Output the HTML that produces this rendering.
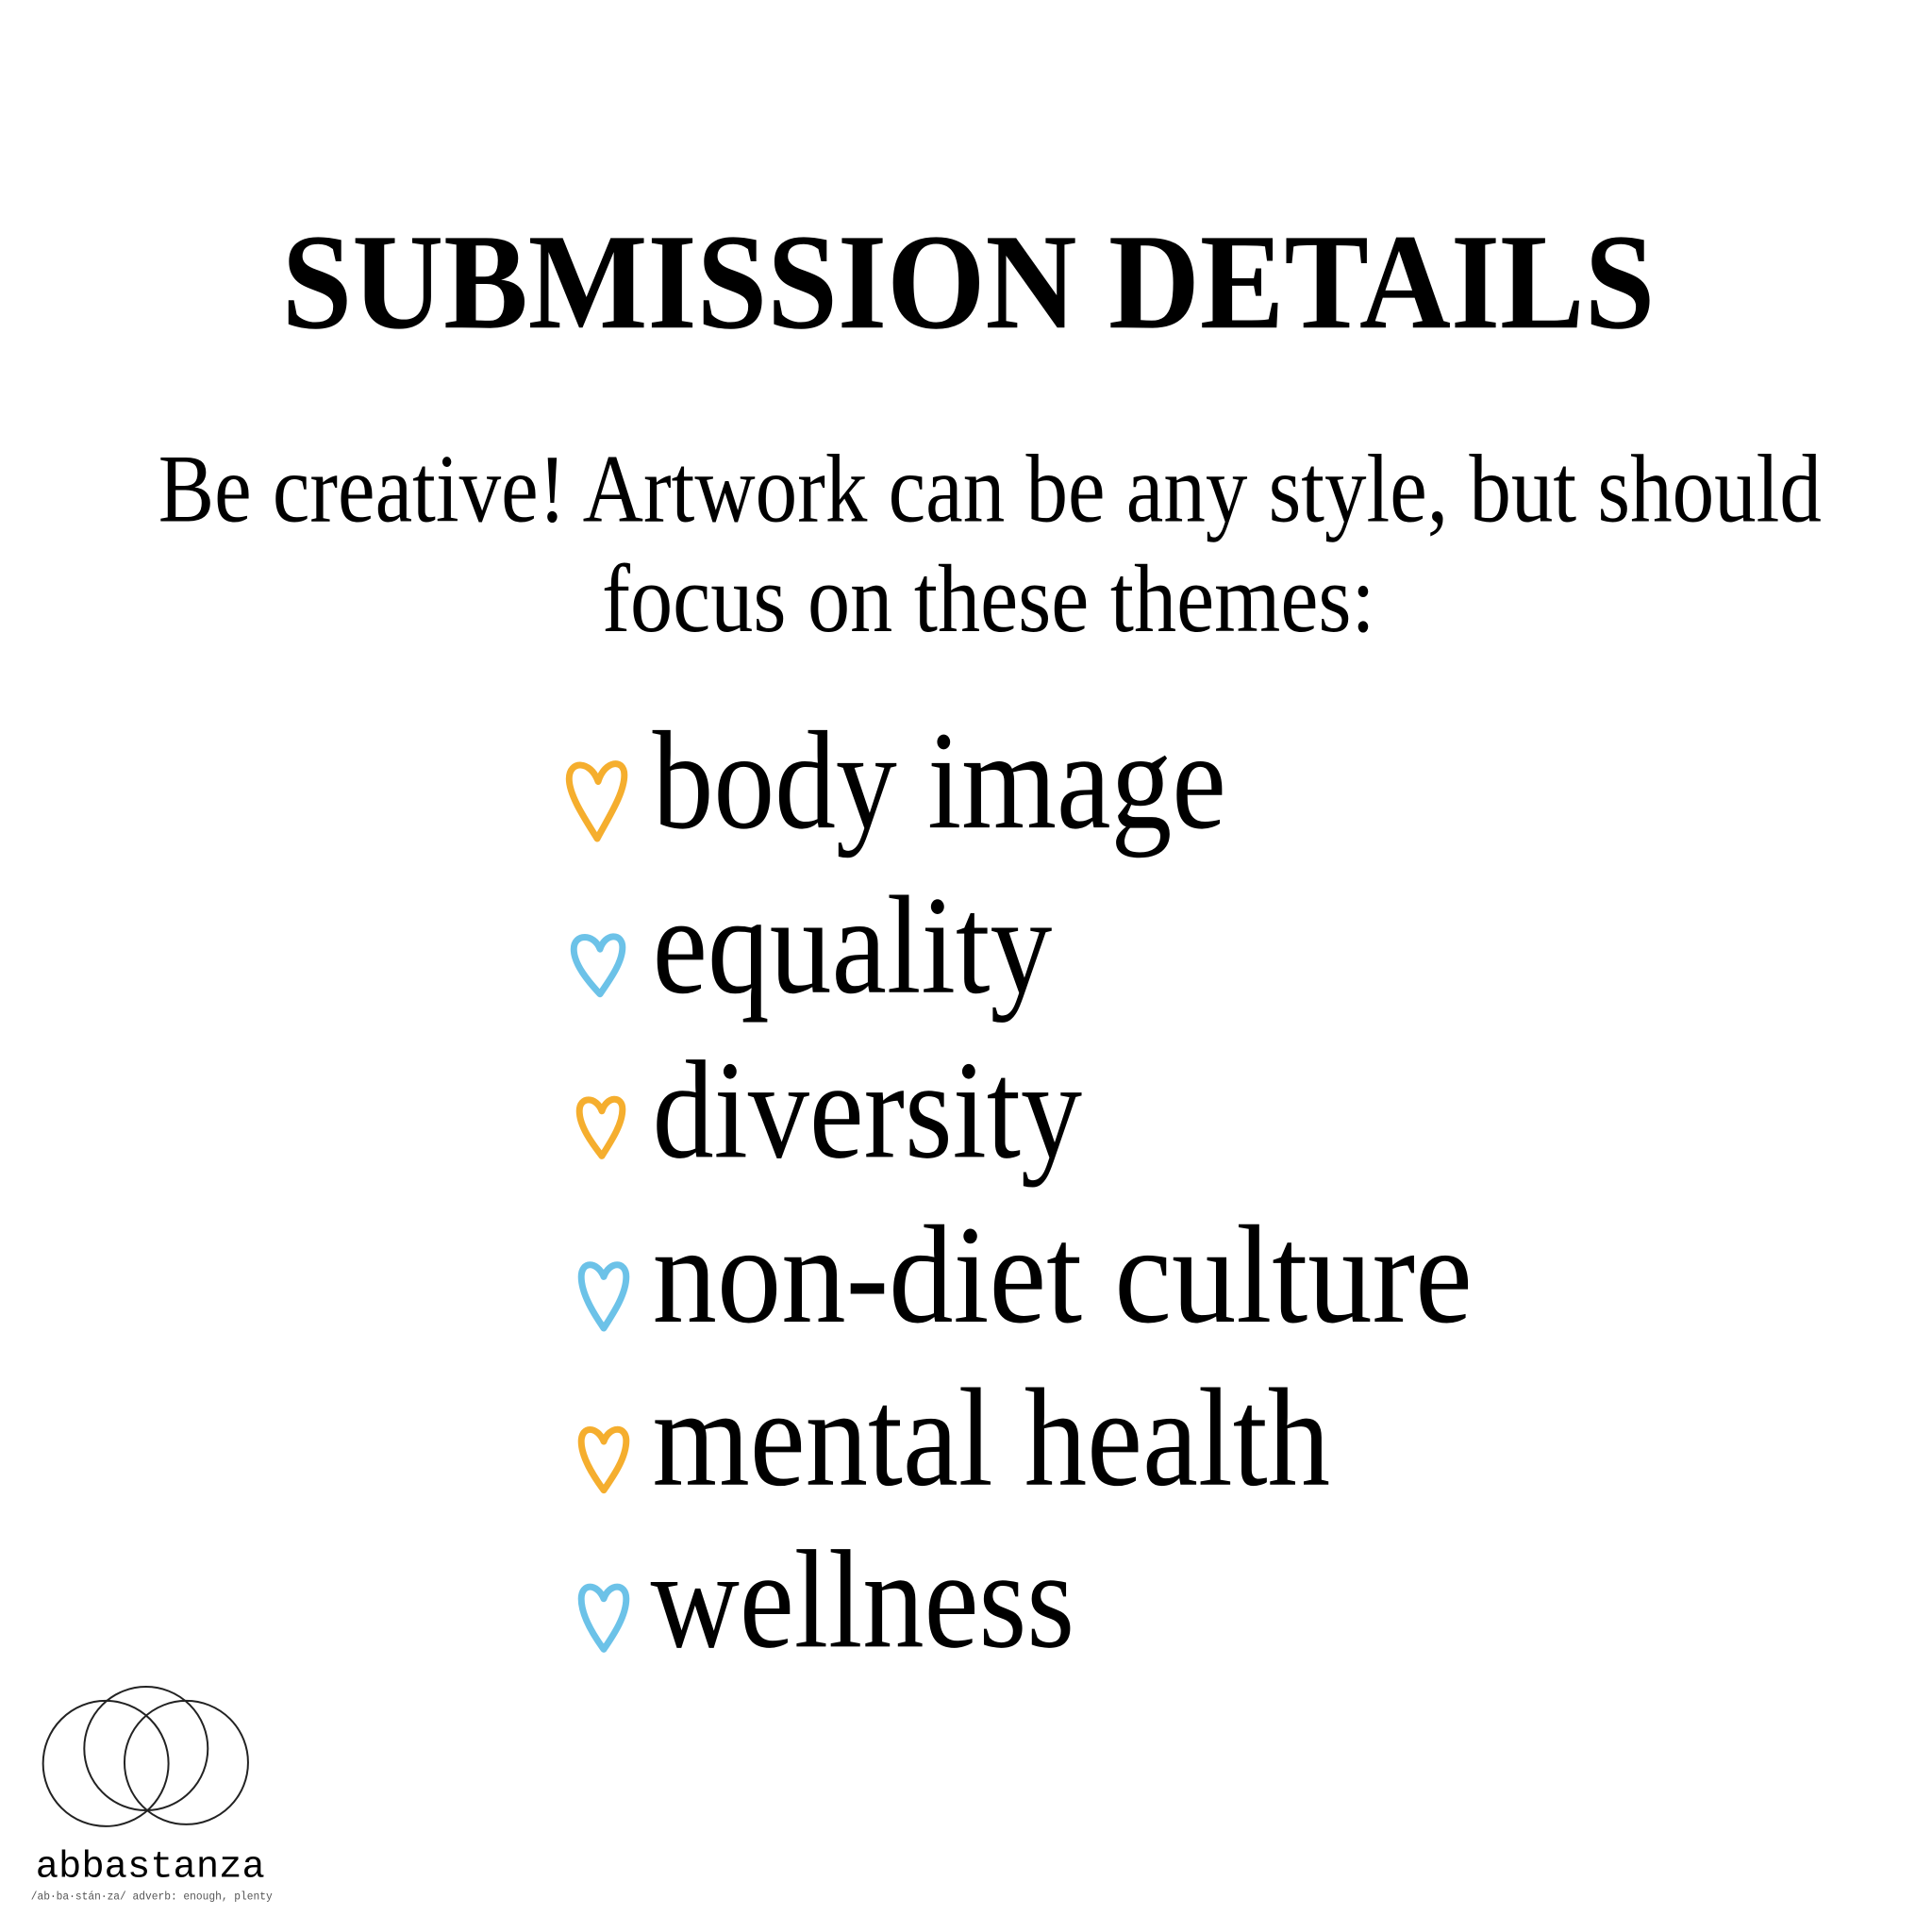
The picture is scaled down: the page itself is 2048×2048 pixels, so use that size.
<!DOCTYPE html>
<html><head><meta charset="utf-8"><style>
html,body{margin:0;padding:0;background:#fff;width:2048px;height:2048px;overflow:hidden}
svg{display:block}
text{font-family:"Liberation Serif",serif;fill:#000}
</style></head><body>
<svg width="2048" height="2048" viewBox="0 0 2064 2064">
<text x="301" y="350" font-size="146" font-weight="bold" textLength="1467" lengthAdjust="spacingAndGlyphs">SUBMISSION DETAILS</text>
<text x="169" y="557" font-size="104" textLength="1777" lengthAdjust="spacingAndGlyphs">Be creative! Artwork can be any style, but should</text>
<text x="643" y="674" font-size="104" textLength="826" lengthAdjust="spacingAndGlyphs">focus on these themes:</text>
<g>
<text x="697" y="884" font-size="150" textLength="613" lengthAdjust="spacingAndGlyphs">body image</text>
<text x="697" y="1060" font-size="150" textLength="427" lengthAdjust="spacingAndGlyphs">equality</text>
<text x="697" y="1236" font-size="150" textLength="459" lengthAdjust="spacingAndGlyphs">diversity</text>
<text x="697" y="1412" font-size="150" textLength="876" lengthAdjust="spacingAndGlyphs">non-diet culture</text>
<text x="697" y="1586" font-size="150" textLength="724" lengthAdjust="spacingAndGlyphs">mental health</text>
<text x="695" y="1759" font-size="150" textLength="453" lengthAdjust="spacingAndGlyphs">wellness</text>
</g>
<g fill="none" stroke-width="7" stroke-linecap="round" stroke-linejoin="round">
<path stroke="#F5AE2E" d="M639 835 C631 812 608 812 608 832 C608 850 625 875 638 896 C649 875 667 848 667 828 C667 810 646 812 639 835 Z"/>
<path stroke="#6CC2E8" d="M641 1014 C635 997 613 997 613 1014 C613 1030 628 1048 641 1062 C652 1046 665 1028 665 1012 C665 996 646 997 641 1014 Z"/>
<path stroke="#F5AE2E" d="M643 1187 C637 1171 619 1171 619 1187 C619 1203 632 1221 643 1235 C653 1219 665 1201 665 1185 C665 1170 648 1171 643 1187 Z"/>
<path stroke="#6CC2E8" d="M645 1364 C638 1347 621 1347 621 1364 C621 1382 634 1403 645 1419 C656 1402 669 1382 669 1364 C669 1347 651 1347 645 1364 Z"/>
<path stroke="#F5AE2E" d="M645 1540 C638 1523 621 1523 621 1540 C621 1557 634 1577 645 1592 C656 1576 669 1557 669 1539 C669 1523 651 1523 645 1540 Z"/>
<path stroke="#6CC2E8" d="M645 1708 C638 1691 621 1691 621 1708 C621 1726 634 1747 645 1762 C656 1746 669 1726 669 1708 C669 1691 651 1691 645 1708 Z"/>
</g>
<g fill="none" stroke="#222" stroke-width="2">
<circle cx="113" cy="1884" r="67"/>
<circle cx="156" cy="1868" r="66"/>
<circle cx="199" cy="1883" r="66"/>
</g>
<text x="38" y="2005" font-size="40" style="font-family:'Liberation Mono',monospace" fill="#111" textLength="245" lengthAdjust="spacingAndGlyphs">abbastanza</text>
<text x="33" y="2029" font-size="12" style="font-family:'Liberation Mono',monospace;fill:#555" textLength="258" lengthAdjust="spacingAndGlyphs">/ab·ba·stán·za/ adverb: enough, plenty</text>
</svg>
</body></html>
